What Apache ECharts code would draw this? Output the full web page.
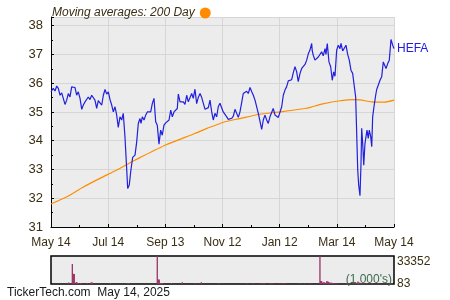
<!DOCTYPE html>
<html><head><meta charset="utf-8">
<script src="https://cdn.jsdelivr.net/npm/echarts@6/dist/echarts.min.js"></script>
<style>html,body{margin:0;padding:0;background:#fff}#c{width:450px;height:300px}</style>
</head><body><div id="c"></div>
<script>
// x tick labels (calendar, one year, equally spaced)
const xTickLabels = ['May 14','Jul 14','Sep 13','Nov 12','Jan 12','Mar 14','May 14'];
const ySpan = [31, 38.3];
// HEFA close: day offset from May 14, 2024 and price
const hefaDays = [
0,2.4,4.3,6.1,7.8,9.6,11.4,13.1,14.9,16.7,
18.4,20.2,22.0,23.7,25.5,27.3,29.0,30.9,32.7,34.4,
36.2,38.0,39.7,41.5,43.3,45.0,46.8,48.6,50.3,52.1,
54.0,55.7,57.5,59.3,61.0,62.8,64.6,66.3,68.1,69.9,
71.6,73.4,75.2,76.9,78.7,80.6,81.6,83.3,85.1,86.9,
89.4,91.2,92.9,94.7,95.8,97.2,99.0,100.8,102.5,104.3,
106.1,107.8,109.6,111.4,113.1,114.9,116.7,118.4,120.2,122.1,
123.8,125.6,127.4,129.1,130.9,132.7,134.4,135.5,137.3,139.1,
140.8,142.6,144.4,146.1,147.9,149.7,151.4,153.2,155.0,156.7,
158.6,160.4,162.1,163.9,165.7,167.4,169.2,171.0,172.7,174.5,
176.3,178.0,179.8,181.6,183.3,185.2,187.0,188.7,190.5,192.3,
194.0,195.8,197.6,199.3,201.1,202.9,204.6,206.4,208.2,209.9,
211.8,213.6,215.3,217.1,218.9,220.6,222.4,224.2,225.9,227.7,
229.5,231.2,233.0,234.8,236.5,238.4,240.2,241.9,243.7,245.5,
247.2,249.0,250.8,252.5,254.3,256.1,257.8,259.6,261.4,263.1,
265.0,266.8,268.5,270.3,272.1,273.8,275.6,277.4,278.0,279.1,
280.9,282.7,284.4,286.2,288.0,289.7,291.6,292.6,294.0,295.8,
297.6,299.3,300.8,302.2,304.0,305.7,307.5,308.6,310.4,312.1,
313.9,315.7,317.4,319.2,321.0,322.7,324.2,325.3,326.4,327.4,
328.8,329.9,330.6,331.7,332.8,334.1,335.2,336.3,337.6,338.7,
340.2,341.3,342.3,343.7,345.5,346.6,348.3,350.1,351.9,353.6,
355.4,356.5,358.3,360.0,361.8,363.6,365
];
const hefaVals = [
35.70,35.82,35.73,35.90,35.82,35.58,35.66,35.63,35.26,35.41,
35.64,35.52,35.87,35.82,35.85,35.58,35.70,35.47,35.09,35.24,
35.35,35.30,35.52,35.43,35.58,35.52,35.41,35.12,35.39,35.43,
35.24,35.58,35.78,35.62,35.70,35.43,35.24,35.00,35.18,34.89,
34.46,34.83,34.72,34.95,34.14,32.98,32.34,32.46,33.00,33.42,
33.50,33.96,34.60,34.77,34.60,34.83,34.72,34.89,35.00,34.95,
35.00,35.29,35.47,34.66,34.54,33.88,34.37,34.19,34.54,34.62,
34.60,34.72,35.06,34.83,35.00,35.00,35.12,35.62,35.35,35.29,
35.35,35.26,35.58,35.35,35.41,35.64,35.47,35.79,35.29,35.50,
35.64,35.50,35.47,35.09,35.09,35.15,35.41,35.00,34.72,34.95,
34.83,35.18,35.30,35.24,35.00,35.05,34.83,34.74,34.77,34.78,
34.85,35.09,34.95,34.81,35.00,35.32,35.64,35.66,35.72,35.64,
35.85,35.70,35.58,35.41,35.41,34.95,34.89,34.39,34.72,34.89,
34.72,34.60,34.83,34.78,35.12,34.89,34.83,34.81,34.77,35.18,
35.58,35.76,35.88,36.08,36.08,36.12,36.36,36.57,36.40,36.05,
36.34,36.51,36.45,36.65,36.80,37.02,37.15,37.38,37.12,36.97,
36.80,36.74,36.91,36.85,37.09,36.95,37.20,37.00,37.38,36.74,
36.57,36.10,36.39,36.24,37.15,37.32,37.20,37.38,37.12,37.15,
37.32,37.00,36.80,36.45,36.34,36.28,35.52,34.25,32.98,32.46,
32.09,33.21,34.43,33.90,33.15,33.90,34.14,34.37,34.08,34.37,
34.14,33.79,34.83,35.18,35.58,35.78,35.80,36.10,36.22,36.74,
36.68,36.51,36.68,36.80,37.52,37.32,37.20
];
// 200-day moving average
const maDays = [0,17,34,52,70,88,95,122,153,166,180,185,201,222,244,270,276,288,306,323,329,341,355,365];
const maVals = [31.80,32.05,32.38,32.69,32.98,33.30,33.42,33.85,34.25,34.43,34.60,34.66,34.77,34.92,35.00,35.12,35.16,35.27,35.38,35.43,35.42,35.35,35.34,35.41];
// volume (1,000's)
const volDays = [18.8,22.7,23.7,24.8,26.9,28.0,29.1,31.6,38.6,42.2,43.3,44.0,63.1,81.2,82.3,83.3,
113.1,114.2,115.2,116.7,117.8,118.9,128.0,139.7,153.5,159.9,178.8,208.2,215.3,223.5,225.9,227.0,
233.0,234.8,236.5,243.7,247.2,249.0,265.0,270.3,275.6,286.2,287.0,288.0,289.7,290.8,291.9,293.4,
294.5,295.5,297.2,298.7,300.4,302.2,304.3,315.0,318.2,321.4,323.5,325.6,326.7,327.7,328.8,330.9,
333.1,336.3,341.6,348.0,357.5,362.9];
const volVals = [1800,23900,12100,11800,2400,1800,1200,1200,800,1500,2000,1500,1000,1000,1000,1000,
33352,5500,5500,1200,1200,1200,1000,2200,1000,2200,1000,800,800,800,800,800,
800,800,800,800,800,800,800,800,800,33352,3500,3500,2000,2000,1500,3200,
3200,2500,1800,1500,1200,800,800,800,800,1200,1200,1500,1800,1800,1500,1200,
800,800,800,800,800,800];
const volTopLabel = 33352, volBottomLabel = 83;

const SPAN = 365, STEP = SPAN / 6;
const FONT = 'Arial, "Liberation Sans", sans-serif';
const TXT = '#3a2e14';
const pair = (xs, ys) => xs.map((x, i) => [x, ys[i]]);

const chart = echarts.init(document.getElementById('c'), null, {renderer: 'canvas'});
chart.setOption({
  animation: false,
  textStyle: {fontFamily: FONT},
  legend: {
    left: 47, top: 2, align: 'right', itemWidth: 11, itemHeight: 11, itemGap: 5,
    data: [{name: 'Moving averages: 200 Day', icon: 'circle'}],
    textStyle: {fontStyle: 'italic', fontSize: 12, color: TXT, fontFamily: FONT},
    selectedMode: false
  },
  grid: [
    {left: 51, right: 56, top: 17, height: 210, show: true, backgroundColor: '#ececec', borderWidth: 0},
    {left: 51, right: 56, top: 256, height: 28, show: true, backgroundColor: '#ececec', borderColor: '#000', borderWidth: 1.5}
  ],
  xAxis: [
    {type: 'value', gridIndex: 0, min: 0, max: SPAN, interval: STEP,
     axisLine: {show: true, onZero: false, lineStyle: {color: '#000', width: 1}},
     axisTick: {show: true, inside: true, length: 3, lineStyle: {color: '#000'}},
     minorTick: {show: true, splitNumber: 2, length: 2, lineStyle: {color: '#000'}},
     axisLabel: {color: TXT, fontSize: 12, margin: 10, fontFamily: FONT,
       formatter: v => { const k = Math.round(v / STEP); return Math.abs(v / STEP - k) < 1e-6 ? xTickLabels[k] : ''; }},
     splitLine: {show: true, lineStyle: {color: '#d6d6d6', width: 1}}},
    {type: 'value', gridIndex: 1, min: 0, max: SPAN,
     axisLine: {show: false}, axisTick: {show: false}, axisLabel: {show: false}, splitLine: {show: false}}
  ],
  yAxis: [
    {type: 'value', gridIndex: 0, min: ySpan[0], max: ySpan[1], interval: 1, position: 'left',
     axisLine: {show: true, onZero: false, lineStyle: {color: '#000', width: 1}},
     axisTick: {show: true, inside: true, length: 3, lineStyle: {color: '#000'}},
     minorTick: {show: true, splitNumber: 2, length: 2, lineStyle: {color: '#000'}},
     axisLabel: {color: TXT, fontSize: 13, margin: 8, fontFamily: FONT,
       formatter: v => Number.isInteger(v) ? String(v) : ''},
     splitLine: {show: true, lineStyle: {color: '#d6d6d6', width: 1}}},
    {type: 'value', gridIndex: 1, min: 0, max: volTopLabel, position: 'right',
     axisLine: {show: false}, axisTick: {show: false}, splitLine: {show: false},
     axisLabel: {customValues: [volTopLabel], formatter: v => String(v), verticalAlign: 'top', margin: 3, color: TXT, fontSize: 12, fontFamily: FONT}},
    {type: 'value', gridIndex: 1, min: 0, max: volTopLabel, position: 'right',
     axisLine: {show: false}, axisTick: {show: false}, splitLine: {show: false},
     axisLabel: {customValues: [volBottomLabel], formatter: v => String(v), verticalAlign: 'middle', padding: [0, 0, 5, 0], margin: 3, color: TXT, fontSize: 12, fontFamily: FONT}}
  ],
  series: [
    {name: 'Moving averages: 200 Day', type: 'line', xAxisIndex: 0, yAxisIndex: 0,
     data: pair(maDays, maVals), smooth: 0.2, showSymbol: false, symbol: 'none',
     itemStyle: {color: '#ff8c00'}, lineStyle: {color: '#ff8c00', width: 1.2}, z: 3},
    {name: 'HEFA', type: 'line', xAxisIndex: 0, yAxisIndex: 0,
     data: pair(hefaDays, hefaVals), showSymbol: false, symbol: 'none',
     lineStyle: {color: '#2020dd', width: 1.2}, itemStyle: {color: '#2020dd'}, z: 4,
     endLabel: {show: true, formatter: 'HEFA', color: '#2020dd', fontSize: 12, distance: 3, fontFamily: FONT}},
    {name: 'Volume', type: 'bar', xAxisIndex: 1, yAxisIndex: 1,
     data: pair(volDays, volVals), barWidth: 1.3, itemStyle: {color: '#993366'}, z: 2}
  ],
  graphic: [
    {type: 'text', right: 58, top: 274, z: 10,
     style: {text: "(1,000's)", fill: '#3d6b4f', font: '12px ' + FONT}},
    {type: 'text', left: 7, top: 287,
     style: {text: 'TickerTech.com  May 14, 2025', fill: '#1a1a1a', font: '12px ' + FONT}}
  ]
});
</script></body></html>
